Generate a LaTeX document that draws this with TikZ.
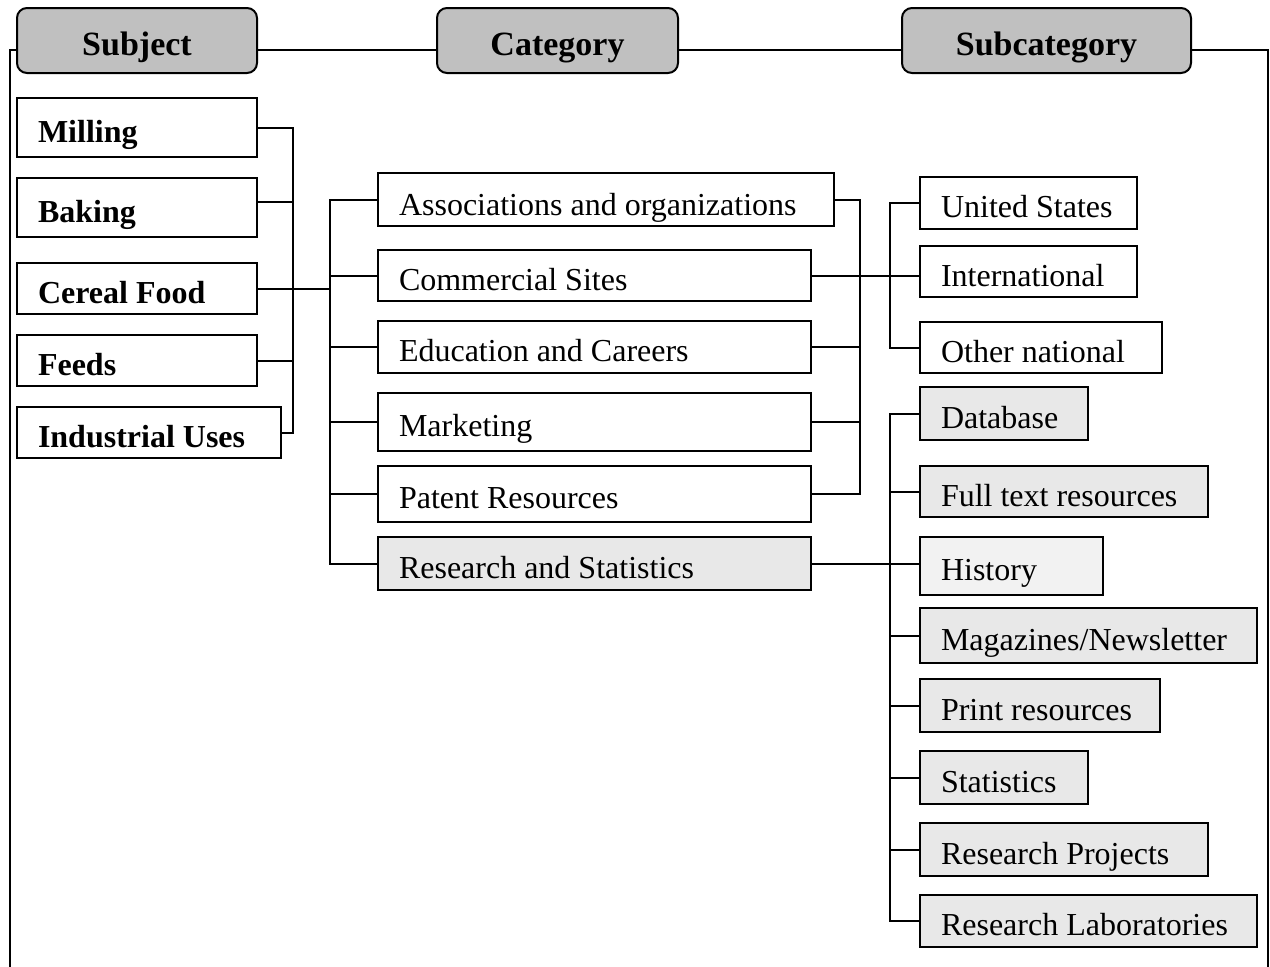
\documentclass[tikz,border=0pt]{standalone}
\usepackage{fontspec}
\setmainfont{Liberation Serif}
\usepackage{tikz}
\usetikzlibrary{positioning,calc}

\definecolor{headgray}{HTML}{C0C0C0}
\definecolor{boxgray}{HTML}{E8E8E8}
\definecolor{histgray}{HTML}{F2F2F2}

\begin{document}
\begin{tikzpicture}[x = 1pt, y = -1pt,
    head/.style = {draw, line width = 2pt, rounded corners = 10pt, fill = headgray, inner sep = 0pt, outer sep = 0pt,
      font = \fontsize{34}{40}\selectfont\bfseries, text height = 37pt, text depth = 7pt},
    item/.style = {draw, line width = 2pt, anchor = north west, inner xsep = 21pt, inner ysep = 0pt, outer sep = 0pt,
      align = flush left, font = \fontsize{32}{38}\selectfont, text height = 35pt, text depth = 6pt},
    bolditem/.style = {item, font = \fontsize{32}{38}\selectfont\bfseries},
    link/.style = {line width = 2pt},
    frame/.style = {line width = 1.5pt}]
    \useasboundingbox (0,0) rectangle (1270,967);

    % Column heads
    \node[head, minimum width = 240pt, minimum height = 65pt] (subj) at (137, 40.5) {Subject};
    \node[head, minimum width = 241pt, minimum height = 65pt] (cat) at (557.5, 40.5) {Category};
    \node[head, minimum width = 289pt, minimum height = 65pt] (subcat) at (1046.5, 40.5) {Subcategory};

    % Subjects
    \node[bolditem, text width = 198pt, minimum height = 59pt] (mill) at (17, 98) {Milling};
    \node[bolditem, text width = 198pt, minimum height = 59pt] (bake) at (17, 178) {Baking};
    \node[bolditem, text width = 198pt, minimum height = 51pt] (cereal) at (17, 263) {Cereal Food};
    \node[bolditem, text width = 198pt, minimum height = 51pt] (feeds) at (17, 335) {Feeds};
    \node[bolditem, text width = 222pt, minimum height = 51pt] (indus) at (17, 407) {Industrial Uses};

    % Categories
    \node[item, text width = 414pt, minimum height = 53pt, text depth = 3pt] (assoc) at (378, 173) {Associations and organizations};
    \node[item, text width = 391pt, minimum height = 51pt] (comm) at (378, 250) {Commercial Sites};
    \node[item, text width = 391pt, minimum height = 52pt] (edu) at (378, 321) {Education and Careers};
    \node[item, text width = 391pt, minimum height = 58pt] (mkt) at (378, 393) {Marketing};
    \node[item, text width = 391pt, minimum height = 56pt] (pat) at (378, 466) {Patent Resources};
    \node[item, text width = 391pt, minimum height = 53pt, fill = boxgray] (res) at (378, 537) {Research and Statistics};

    % Subcategories
    \node[item, text width = 175pt, minimum height = 52pt] (us) at (920, 177) {United States};
    \node[item, text width = 175pt, minimum height = 51pt] (intl) at (920, 246) {International};
    \node[item, text width = 200pt, minimum height = 51pt] (other) at (920, 322) {Other national};
    \node[item, text width = 126pt, minimum height = 53pt, fill = boxgray] (db) at (920, 387) {Database};
    \node[item, text width = 246pt, minimum height = 51pt, fill = boxgray] (full) at (920, 466) {Full text resources};
    \node[item, text width = 141pt, minimum height = 58pt, fill = histgray] (hist) at (920, 537) {History};
    \node[item, text width = 295pt, minimum height = 55pt, fill = boxgray] (mag) at (920, 608) {Magazines/Newsletter};
    \node[item, text width = 198pt, minimum height = 53pt, fill = boxgray] (print) at (920, 679) {Print resources};
    \node[item, text width = 126pt, minimum height = 53pt, fill = boxgray] (stats) at (920, 751) {Statistics};
    \node[item, text width = 246pt, minimum height = 53pt, fill = boxgray] (rproj) at (920, 823) {Research Projects};
    \node[item, text width = 295pt, minimum height = 52pt, fill = boxgray] (rlab) at (920, 895) {Research Laboratories};

    % Bus lines and frame
    \coordinate (busA) at (293, 0);
    \coordinate (busB) at (330, 0);
    \coordinate (busC) at (860, 0);
    \coordinate (busD) at (890, 0);
    \coordinate (ftop) at (0, 50);
    \coordinate (fbl) at (10, 967);
    \coordinate (fbr) at (1268, 967);

    \draw[frame] (fbl) |- (subj.west |- ftop);
    \draw[frame] (subj.east |- ftop) -- (cat.west |- ftop);
    \draw[frame] (cat.east |- ftop) -- (subcat.west |- ftop);
    \draw[frame] (subcat.east |- ftop) -| (fbr);

    % Subjects to categories
    \draw[link] (mill.east) -| (indus.east -| busA) -- (indus.east);
    \draw[link] ([yshift = 6pt]bake.east) -- ([yshift = 6pt]bake.east -| busA);
    \draw[link] (feeds.east) -- (feeds.east -| busA);
    \draw[link] (cereal.east) -- (cereal.east -| busB);
    \draw[link] (assoc.west) -| (res.west -| busB) -- (res.west);
    \foreach \n in {comm, edu, mkt, pat}
      \draw[link] (\n.west) -- (\n.west -| busB);

    % Categories to subcategories
    \draw[link] (assoc.east) -| (pat.east -| busC) -- (pat.east);
    \foreach \n in {edu, mkt}
      \draw[link] (\n.east) -- (\n.east -| busC);
    \draw[link] (comm.east) -- (comm.east -| intl.west);
    \draw[link] (us.west) -| (other.west -| busD) -- (other.west);
    \draw[link] (res.east) -- (res.east -| hist.west);
    \draw[link] (db.west) -| (rlab.west -| busD) -- (rlab.west);
    \foreach \n in {full, mag, print, stats, rproj}
      \draw[link] (\n.west) -- (\n.west -| busD);
  \end{tikzpicture}
\end{document}
